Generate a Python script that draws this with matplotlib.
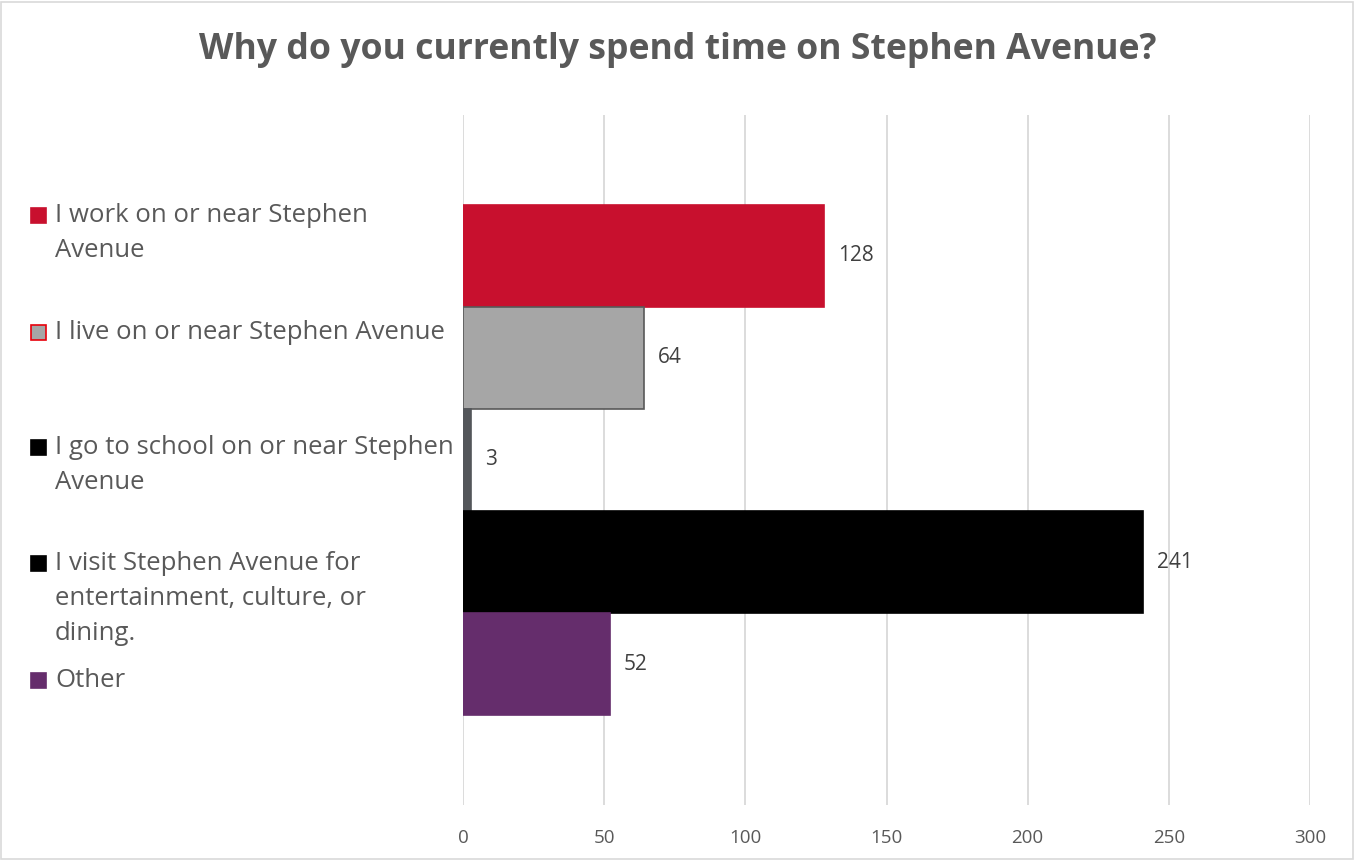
import matplotlib
matplotlib.use("Agg")
import matplotlib.pyplot as plt
from matplotlib.patches import Rectangle

# Survey responses
series = [
    "I work on or near Stephen\nAvenue",
    "I live on or near Stephen Avenue",
    "I go to school on or near Stephen\nAvenue",
    "I visit Stephen Avenue for\nentertainment, culture, or\ndining.",
    "Other",
]
counts = [128, 64, 3, 241, 52]
bar_colors = ["#C8102E", "#A6A6A6", "#53565A", "#000000", "#652D6C"]
bar_edges = ["#C8102E", "#595959", "#53565A", "#000000", "#652D6C"]
legend_fill = ["#C8102E", "#A6A6A6", "#000000", "#000000", "#652D6C"]
legend_edge = ["#C8102E", "#E8000B", "#000000", "#000000", "#652D6C"]
x_ticks = [0, 50, 100, 150, 200, 250, 300]

plt.rcParams["font.family"] = ["Open Sans", "DejaVu Sans"]
text_color = "#595959"
W, H = 1355, 860

fig = plt.figure(figsize=(W / 100, H / 100), dpi=100)
ax = fig.add_axes([0.3417, 0.064, 0.6251, 0.8023])

n = len(series)
positions = [(n - 1) / 2 - i for i in range(n)]
ax.barh(positions, counts, height=1.0, color=bar_colors,
        edgecolor=bar_edges, linewidth=1.2, zorder=3)

for pos, val in zip(positions, counts):
    ax.annotate(str(val), xy=(val, pos), xytext=(10, 0),
                textcoords="offset points", va="center", ha="left",
                fontsize=15, color="#404040")

ax.set_xlim(0, 300)
ax.set_ylim(-3.38, 3.38)
ax.set_xticks(x_ticks)
ax.set_xticklabels([str(t) for t in x_ticks], fontsize=13.5, color=text_color)
ax.set_yticks([])
ax.tick_params(axis="x", length=0, pad=17)
ax.grid(axis="x", color="#D9D9D9", linewidth=1.3, zorder=0)
for s in ax.spines.values():
    s.set_visible(False)

fig.text(0.5, 1 - 50 / H, "Why do you currently spend time on Stephen Avenue?",
         ha="center", va="center", fontsize=25.7, fontweight="bold",
         color=text_color)

# Legend drawn at the left of the plot; y values are first-line centres (px)
legend_y = [215, 332, 447, 563, 680]
for label, y, fc, ec in zip(series, legend_y, legend_fill, legend_edge):
    fig.patches.append(Rectangle((31 / W, 1 - (y + 8) / H), 15 / W, 15 / H,
                                 transform=fig.transFigure, facecolor=fc,
                                 edgecolor=ec, linewidth=1.2))
    fig.text(55 / W, 1 - (y - 12) / H, label, ha="left", va="top",
             fontsize=18.5, color=text_color, linespacing=1.52,
             transform=fig.transFigure)

fig.patches.append(Rectangle((1 / W, 1 / H), (W - 3) / W, (H - 3) / H,
                             transform=fig.transFigure, fill=False,
                             edgecolor="#D9D9D9", linewidth=1.2))

fig.savefig("out.png", dpi=100)
